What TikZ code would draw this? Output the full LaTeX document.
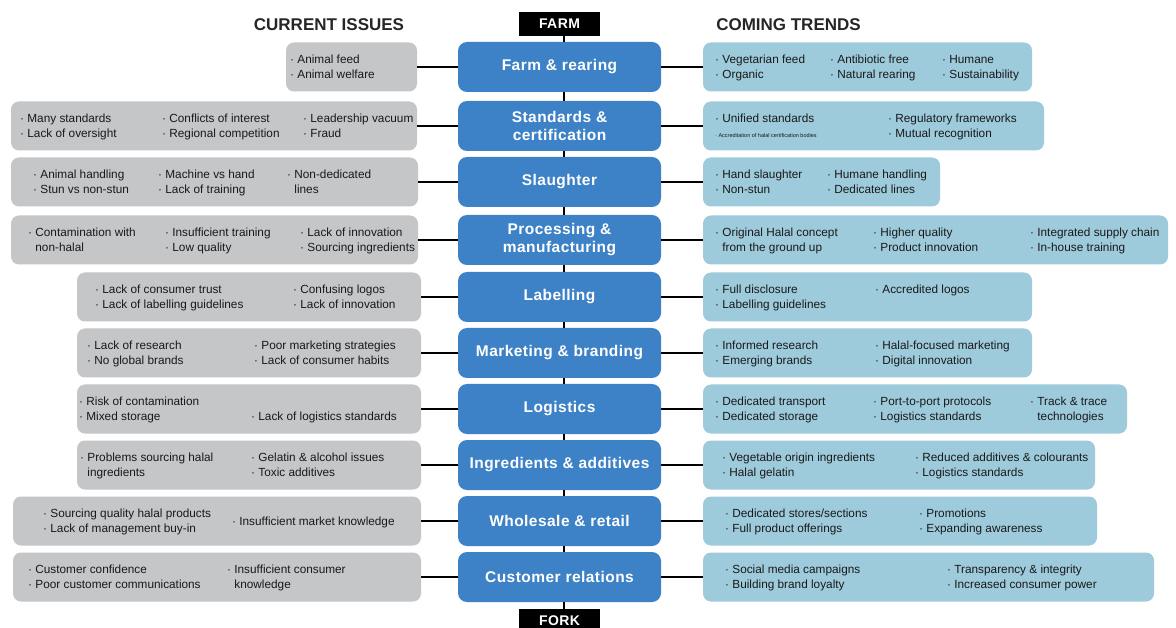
\documentclass[tikz,border=0pt]{standalone}
\usepackage{fontspec}
\setmainfont{Liberation Sans}
\newfontfamily\titlefont[LetterSpace=3]{Liberation Sans}
\usetikzlibrary{positioning}

\definecolor{stageblue}{HTML}{3D82C6}
\definecolor{trendblue}{HTML}{9ECBDB}
\definecolor{issuegray}{HTML}{C4C6C7}

\newcommand{\bul}{\strut·\ }
\newcommand{\cnt}{\strut\phantom{·\ }}

\begin{document}
\begin{tikzpicture}[x=1pt, y=-1pt]

    % Define styles
    \tikzstyle{issue} = [rectangle, rounded corners=8pt, fill=issuegray, minimum height=49pt]
    \tikzstyle{trend} = [rectangle, rounded corners=8pt, fill=trendblue, minimum height=49pt]
    \tikzstyle{stage} = [rectangle, rounded corners=9pt, fill=stageblue, minimum width=203pt, minimum height=50pt, text=white, align=center, font=\titlefont\bfseries\fontsize{15.5}{18}\selectfont]
    \tikzstyle{ends} = [rectangle, fill=black, text=white, minimum width=81pt, minimum height=24pt, inner sep=0pt, font=\titlefont\bfseries\fontsize{14}{16}\selectfont]
    \tikzstyle{head} = [text=black!85, font=\bfseries\fontsize{17}{20}\selectfont]
    \tikzstyle{txt} = [anchor=west, align=left, inner sep=0pt, yshift=-1pt, text=black!90, font=\fontsize{11.8}{15}\selectfont]
    \tikzstyle{link} = [line width=2.5pt, black]
    \tikzstyle{spine} = [line width=2pt, black]

    \useasboundingbox (0,0) rectangle (1176,628);
    \fill[white] (0,0) rectangle (1176,628);
    \clip (0,0) rectangle (1176,628);

    % Headers
    \node (hissue) [head] at (329,25) {CURRENT ISSUES};
    \node (htrend) [head] at (788.5,25) {COMING TRENDS};

    % Stages
    \node (stg1) [stage] at (559.5,67) {Farm \& rearing};
    \node (stg2) [stage] at (559.5,126) {Standards \&\\certification};
    \node (stg3) [stage] at (559.5,182) {Slaughter};
    \node (stg4) [stage] at (559.5,240) {Processing \&\\manufacturing};
    \node (stg5) [stage] at (559.5,297) {Labelling};
    \node (stg6) [stage] at (559.5,353) {Marketing \& branding};
    \node (stg7) [stage] at (559.5,409) {Logistics};
    \node (stg8) [stage] at (559.5,465) {Ingredients \& additives};
    \node (stg9) [stage] at (559.5,521) {Wholesale \& retail};
    \node (stg10) [stage] at (559.5,577) {Customer relations};

    \node (farm) [ends, above=5.5pt of stg1] {FARM};
    \node (fork) [ends, below=6.5pt of stg10] {FORK};

    % Current issues
    \node (iss1) [issue, minimum width=131pt] at (351.5,67) {};
    \node (iss1a) [txt] at (290,67) {\bul Animal feed\\\bul Animal welfare};

    \node (iss2) [issue, minimum width=406pt] at (214,126) {};
    \node (iss2a) [txt] at (20,126) {\bul Many standards\\\bul Lack of oversight};
    \node (iss2b) [txt] at (162,126) {\bul Conflicts of interest\\\bul Regional competition};
    \node (iss2c) [txt] at (303,126) {\bul Leadership vacuum\\\bul Fraud};

    \node (iss3) [issue, minimum width=407pt] at (214.5,182) {};
    \node (iss3a) [txt] at (33,182) {\bul Animal handling\\\bul Stun vs non-stun};
    \node (iss3b) [txt] at (158,182) {\bul Machine vs hand\\\bul Lack of training};
    \node (iss3c) [txt] at (287,182) {\bul Non-dedicated\\\cnt lines};

    \node (iss4) [issue, minimum width=407pt] at (214.5,240) {};
    \node (iss4a) [txt] at (28,240) {\bul Contamination with\\\cnt non-halal};
    \node (iss4b) [txt] at (165,240) {\bul Insufficient training\\\bul Low quality};
    \node (iss4c) [txt] at (300,240) {\bul Lack of innovation\\\bul Sourcing ingredients};

    \node (iss5) [issue, minimum width=344pt] at (249,297) {};
    \node (iss5a) [txt] at (95,297) {\bul Lack of consumer trust\\\bul Lack of labelling guidelines};
    \node (iss5b) [txt] at (293,297) {\bul Confusing logos\\\bul Lack of innovation};

    \node (iss6) [issue, minimum width=344pt] at (249,353) {};
    \node (iss6a) [txt] at (87,353) {\bul Lack of research\\\bul No global brands};
    \node (iss6b) [txt] at (254,353) {\bul Poor marketing strategies\\\bul Lack of consumer habits};

    \node (iss7) [issue, minimum width=344pt] at (249,409) {};
    \node (iss7a) [txt] at (79,409) {\bul Risk of contamination\\\bul Mixed storage};
    \node (iss7b) [txt] at (251,409) {\cnt\\\bul Lack of logistics standards};

    \node (iss8) [issue, minimum width=344pt] at (249,465) {};
    \node (iss8a) [txt] at (80,465) {\bul Problems sourcing halal\\\cnt ingredients};
    \node (iss8b) [txt] at (251,465) {\bul Gelatin \& alcohol issues\\\bul Toxic additives};

    \node (iss9) [issue, minimum width=408pt] at (217,521) {};
    \node (iss9a) [txt] at (43,521) {\bul Sourcing quality halal products\\\bul Lack of management buy-in};
    \node (iss9b) [txt] at (232,521) {\bul Insufficient market knowledge};

    \node (iss10) [issue, minimum width=408pt] at (217,577) {};
    \node (iss10a) [txt] at (28,577) {\bul Customer confidence\\\bul Poor customer communications};
    \node (iss10b) [txt] at (227,577) {\bul Insufficient consumer\\\cnt knowledge};

    % Coming trends
    \node (trd1) [trend, minimum width=329pt] at (867.5,67) {};
    \node (trd1a) [txt] at (715,67) {\bul Vegetarian feed\\\bul Organic};
    \node (trd1b) [txt] at (830,67) {\bul Antibiotic free\\\bul Natural rearing};
    \node (trd1c) [txt] at (942,67) {\bul Humane\\\bul Sustainability};

    \node (trd2) [trend, minimum width=341pt] at (873.5,126) {};
    \node (trd2a) [txt] at (715,126) {\bul Unified standards\\\strut{\fontsize{5.5}{6}\selectfont · Accreditation of halal certification bodies}};
    \node (trd2b) [txt] at (888,126) {\bul Regulatory frameworks\\\bul Mutual recognition};

    \node (trd3) [trend, minimum width=237pt] at (821.5,182) {};
    \node (trd3a) [txt] at (715,182) {\bul Hand slaughter\\\bul Non-stun};
    \node (trd3b) [txt] at (827,182) {\bul Humane handling\\\bul Dedicated lines};

    \node (trd4) [trend, minimum width=465pt] at (935.5,240) {};
    \node (trd4a) [txt] at (715,240) {\bul Original Halal concept\\\cnt from the ground up};
    \node (trd4b) [txt] at (873,240) {\bul Higher quality\\\bul Product innovation};
    \node (trd4c) [txt] at (1030,240) {\bul Integrated supply chain\\\bul In-house training};

    \node (trd5) [trend, minimum width=329pt] at (867.5,297) {};
    \node (trd5a) [txt] at (715,297) {\bul Full disclosure\\\bul Labelling guidelines};
    \node (trd5b) [txt] at (875,297) {\bul Accredited logos\\\cnt};

    \node (trd6) [trend, minimum width=329pt] at (867.5,353) {};
    \node (trd6a) [txt] at (715,353) {\bul Informed research\\\bul Emerging brands};
    \node (trd6b) [txt] at (875,353) {\bul Halal-focused marketing\\\bul Digital innovation};

    \node (trd7) [trend, minimum width=424pt] at (915,409) {};
    \node (trd7a) [txt] at (715,409) {\bul Dedicated transport\\\bul Dedicated storage};
    \node (trd7b) [txt] at (873,409) {\bul Port-to-port protocols\\\bul Logistics standards};
    \node (trd7c) [txt] at (1030,409) {\bul Track \& trace\\\cnt technologies};

    \node (trd8) [trend, minimum width=392pt] at (899,465) {};
    \node (trd8a) [txt] at (722,465) {\bul Vegetable origin ingredients\\\bul Halal gelatin};
    \node (trd8b) [txt] at (915,465) {\bul Reduced additives \& colourants\\\bul Logistics standards};

    \node (trd9) [trend, minimum width=394pt] at (900,521) {};
    \node (trd9a) [txt] at (725,521) {\bul Dedicated stores/sections\\\bul Full product offerings};
    \node (trd9b) [txt] at (919,521) {\bul Promotions\\\bul Expanding awareness};

    \node (trd10) [trend, minimum width=451pt] at (928.5,577) {};
    \node (trd10a) [txt] at (725,577) {\bul Social media campaigns\\\bul Building brand loyalty};
    \node (trd10b) [txt] at (947,577) {\bul Transparency \& integrity\\\bul Increased consumer power};

    % Draw connectors
    \foreach \a/\b in {farm/stg1, stg1/stg2, stg2/stg3, stg3/stg4, stg4/stg5, stg5/stg6, stg6/stg7, stg7/stg8, stg8/stg9, stg9/stg10, stg10/fork}
        \draw [spine] ([xshift=4.5pt]\a.south) -- ([xshift=4.5pt]\b.north);
    \foreach \i in {1,...,10} {
        \draw [link] (iss\i) -- (stg\i);
        \draw [link] (stg\i) -- (trd\i);
    }

\end{tikzpicture}
\end{document}
